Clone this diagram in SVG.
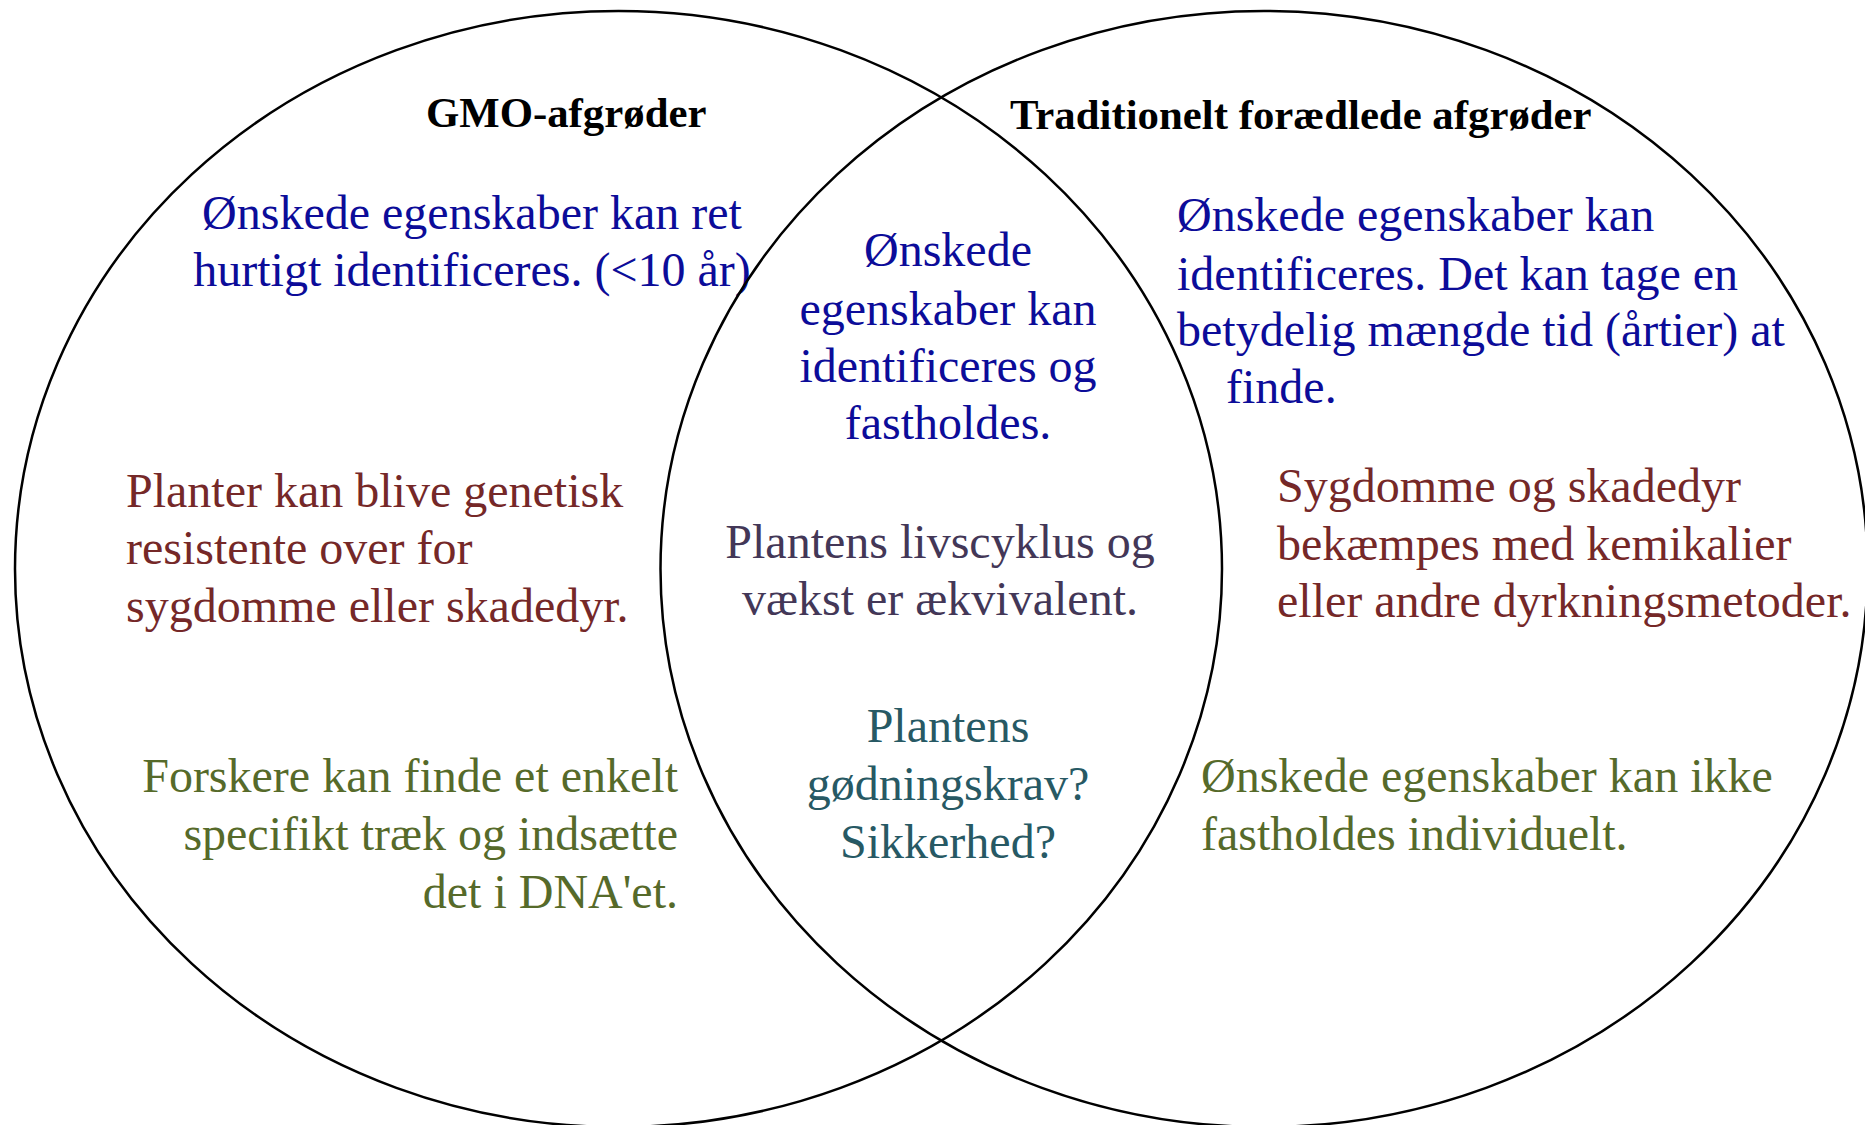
<svg xmlns="http://www.w3.org/2000/svg" width="1865" height="1125" viewBox="0 0 1865 1125">
<style>
.c{fill:none;stroke:#000;stroke-width:2.5}
text{font-family:"Liberation Serif","Times New Roman",serif;font-size:48px}
.h{font-weight:bold;font-size:42.8px;fill:#000}
.bl{fill:#0c0c99}
.rd{fill:#752828}
.pu{fill:#433757}
.tl{fill:#275964}
.ol{fill:#566a2a}
.m{text-anchor:middle}
.e{text-anchor:end}
</style>
<rect width="1865" height="1125" fill="#fff"/>
<g id="connectors"></g>
<g id="gmo">
<ellipse class="c" cx="618.5" cy="569" rx="603.5" ry="558"/>
<text class="h" x="426" y="127">GMO-afgrøder</text>
<text class="bl m" x="472"><tspan x="472" y="229">Ønskede egenskaber kan ret</tspan><tspan x="472" y="286">hurtigt identificeres. (&lt;10 år)</tspan></text>
<text class="rd"><tspan x="126" y="507">Planter kan blive genetisk</tspan><tspan x="126" y="564">resistente over for</tspan><tspan x="126" y="622">sygdomme eller skadedyr.</tspan></text>
<text class="ol e"><tspan x="678" y="792">Forskere kan finde et enkelt</tspan><tspan x="678" y="850">specifikt træk og indsætte</tspan><tspan x="678" y="908">det i DNA'et.</tspan></text>
</g>
<g id="traditional">
<ellipse class="c" cx="1264" cy="569" rx="603.5" ry="558"/>
<text class="h" x="1010" y="129">Traditionelt forædlede afgrøder</text>
<text class="bl"><tspan x="1177" y="231">Ønskede egenskaber kan</tspan><tspan x="1177" y="290">identificeres. Det kan tage en</tspan><tspan x="1177" y="346">betydelig mængde tid (årtier) at</tspan><tspan x="1226" y="403">finde.</tspan></text>
<text class="rd"><tspan x="1277" y="502">Sygdomme og skadedyr</tspan><tspan x="1277" y="560">bekæmpes med kemikalier</tspan><tspan x="1277" y="617">eller andre dyrkningsmetoder.</tspan></text>
<text class="ol"><tspan x="1201" y="792">Ønskede egenskaber kan ikke</tspan><tspan x="1201" y="850">fastholdes individuelt.</tspan></text>
</g>
<g id="overlap">
<text class="bl m"><tspan x="948" y="266">Ønskede</tspan><tspan x="948" y="325">egenskaber kan</tspan><tspan x="948" y="382">identificeres og</tspan><tspan x="948" y="439">fastholdes.</tspan></text>
<text class="pu m"><tspan x="940" y="558">Plantens livscyklus og</tspan><tspan x="940" y="615">vækst er ækvivalent.</tspan></text>
<text class="tl m"><tspan x="948" y="742">Plantens</tspan><tspan x="948" y="800">gødningskrav?</tspan><tspan x="948" y="858">Sikkerhed?</tspan></text>
</g>
</svg>
